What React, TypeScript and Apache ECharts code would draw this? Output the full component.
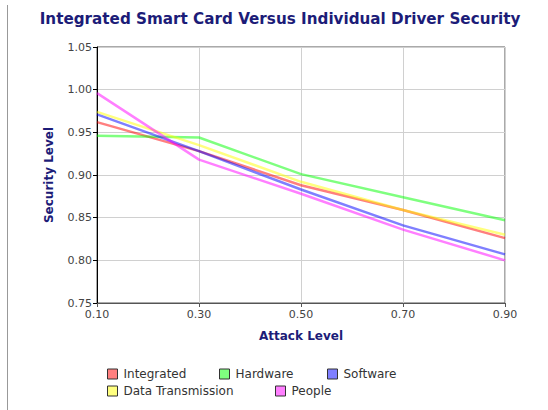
import React, { useEffect, useRef } from "react";
import * as echarts from "echarts";

const attackLevels = [0.1, 0.3, 0.5, 0.7, 0.9];
const seriesNames = ["Integrated", "Hardware", "Software", "Data Transmission", "People"];
const integrated = [0.962, 0.928, 0.888, 0.859, 0.826];
const hardware = [0.946, 0.944, 0.901, 0.874, 0.847];
const software = [0.971, 0.928, 0.883, 0.841, 0.807];
const dataTransmission = [0.974, 0.935, 0.892, 0.859, 0.830];
const people = [0.996, 0.918, 0.878, 0.836, 0.800];
const seriesValues = [integrated, hardware, software, dataTransmission, people];
const seriesColors = [
  "rgba(255,0,0,0.5)",
  "rgba(0,255,0,0.5)",
  "rgba(0,0,255,0.5)",
  "rgba(255,255,0,0.5)",
  "rgba(255,0,255,0.5)",
];

const NAVY = "#1c1c78";
const FONT = "DejaVu Sans";

export default function App() {
  const ref = useRef<HTMLDivElement>(null);
  useEffect(() => {
    if (!ref.current) return;
    const chart = echarts.init(ref.current, null, { renderer: "svg" });
    const legendPos = [
      { left: 107, top: 368 },
      { left: 219, top: 368 },
      { left: 327, top: 368 },
      { left: 107, top: 385 },
      { left: 275, top: 385 },
    ];
    chart.setOption({
      animation: false,
      backgroundColor: "#ffffff",
      textStyle: { fontFamily: FONT },
      graphic: [
        {
          type: "line",
          shape: { x1: 7.5, y1: 5, x2: 7.5, y2: 410 },
          style: { stroke: "#999", lineWidth: 1 },
        },
        {
          type: "text",
          x: 280,
          y: 19,
          style: {
            text: "Integrated Smart Card Versus Individual Driver Security",
            fill: NAVY,
            font: `bold 15.2px ${FONT}`,
            textAlign: "center",
            textVerticalAlign: "middle",
          },
        },
      ],
      legend: seriesNames.map((n, i) => ({
        data: [n],
        left: legendPos[i].left,
        top: legendPos[i].top,
        orient: "horizontal",
        icon: "rect",
        itemWidth: 10,
        itemHeight: 10,
        itemGap: 6,
        selectedMode: false,
        padding: 0,
        itemStyle: { borderColor: "#333", borderWidth: 1 },
        textStyle: { fontFamily: FONT, fontSize: 12, color: "#333", padding: [0, 0, 0, 1] },
      })),
      grid: {
        left: 97,
        right: 43,
        top: 47,
        bottom: 107,
        show: true,
        borderColor: "#555",
        borderWidth: 1,
        backgroundColor: "#fff",
      },
      xAxis: {
        type: "value",
        min: 0.1,
        max: 0.9,
        interval: 0.2,
        name: "Attack Level",
        nameLocation: "middle",
        nameGap: 27,
        nameTextStyle: { color: NAVY, fontWeight: "bold", fontSize: 12, fontFamily: FONT },
        axisLine: { show: true, lineStyle: { color: "#555" } },
        axisTick: { show: true, length: 4, lineStyle: { color: "#555" } },
        axisLabel: {
          color: "#444",
          fontSize: 11,
          fontFamily: FONT,
          margin: 6,
          formatter: (v: number) => v.toFixed(2),
        },
        splitLine: { show: true, lineStyle: { color: "#d0d0d0" } },
      },
      yAxis: {
        type: "value",
        min: 0.75,
        max: 1.05,
        interval: 0.05,
        name: "Security Level",
        nameLocation: "middle",
        nameGap: 42,
        nameTextStyle: { color: NAVY, fontWeight: "bold", fontSize: 12, fontFamily: FONT },
        axisLine: { show: true, lineStyle: { color: "#000" } },
        axisTick: { show: true, length: 4, lineStyle: { color: "#000" } },
        axisLabel: {
          color: "#444",
          fontSize: 11,
          fontFamily: FONT,
          margin: 5,
          formatter: (v: number) => v.toFixed(2),
        },
        splitLine: { show: true, lineStyle: { color: "#d0d0d0" } },
      },
      series: seriesNames.map((n, i) => ({
        name: n,
        type: "line",
        data: attackLevels.map((x, j) => [x, seriesValues[i][j]]),
        showSymbol: false,
        symbol: "none",
        lineStyle: { color: seriesColors[i], width: 2.5 },
        itemStyle: { color: seriesColors[i] },
      })),
    });
    return () => chart.dispose();
  }, []);
  return <div ref={ref} style={{ width: 548, height: 410, position: "absolute", left: 0, top: 0 }} />;
}
